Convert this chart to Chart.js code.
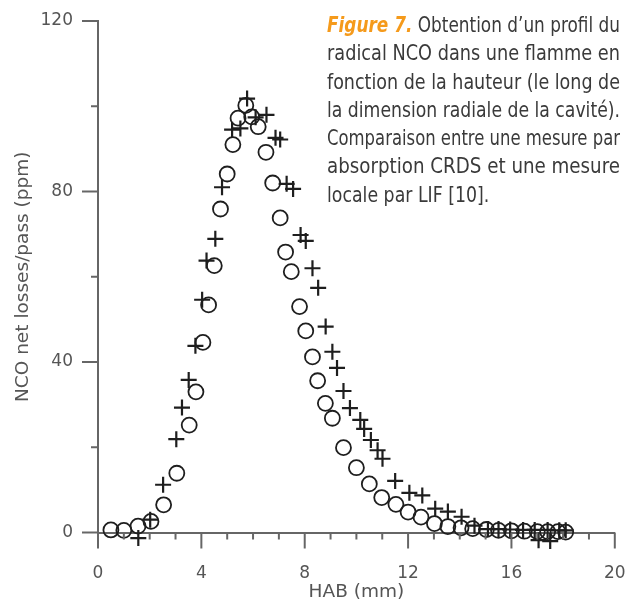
<!DOCTYPE html>
<html lang="fr">
<head>
<meta charset="UTF-8" />
<title>Profil NCO</title>
<style>
  html, body { margin: 0; padding: 0; background: #fff; }
  #wrap { position: relative; width: 625px; height: 601px; }
  #caption {
    position: absolute; left: 327px; top: 11px; width: 293px;
    font-family: "DejaVu Sans Condensed", "Liberation Sans", sans-serif;
    font-size: 21px; line-height: 28.3px; color: #3a3a3a;
  }
  #caption .l { text-align: justify; text-align-last: justify; white-space: nowrap; }
  #caption .last { text-align: left; white-space: nowrap; }
  #caption b { color: #f59a1b; font-style: italic; }
</style>
</head>
<body>
<div id="wrap">
  <canvas id="chart" width="625" height="601"></canvas>
  <div id="caption">
    <div class="l"><b>Figure 7.</b> Obtention d’un profil du</div>
    <div class="l">radical NCO dans une flamme en</div>
    <div class="l">fonction de la hauteur (le long de</div>
    <div class="l">la dimension radiale de la cavité).</div>
    <div class="l">Comparaison entre une mesure par</div>
    <div class="l">absorption CRDS et une mesure</div>
    <div class="last">locale par LIF [10].</div>
  </div>
</div>

<script src="https://cdn.jsdelivr.net/npm/chart.js"></script>
<script>
  // circles
  const circleHab = [0.5, 1.0, 1.55, 2.05, 2.54, 3.05, 3.53, 3.79, 4.06, 4.28, 4.5, 4.74, 5.0, 5.22, 5.42, 5.72, 5.95, 6.2, 6.5, 6.76, 7.05, 7.26, 7.48, 7.8, 8.04, 8.3, 8.5, 8.8, 9.07, 9.5, 10.0, 10.5, 10.98, 11.53, 12.0, 12.5, 13.02, 13.54, 14.05, 14.5, 15.03, 15.5, 16.0, 16.5, 17.0, 17.4, 17.8, 18.1];
  const circleNco = [0.6, 0.5, 1.5, 2.6, 6.5, 13.9, 25.2, 33, 44.6, 53.4, 62.6, 75.9, 84.1, 91, 97.2, 100.2, 97.5, 95.2, 89.2, 82.0, 73.8, 65.8, 61.2, 53.0, 47.3, 41.2, 35.6, 30.3, 26.8, 19.9, 15.2, 11.4, 8.2, 6.6, 4.8, 3.6, 2.1, 1.4, 1.1, 0.9, 0.7, 0.5, 0.4, 0.3, 0.2, 0.2, 0.2, 0.1];

  // crosses
  const crossHab = [1.56, 2.02, 2.52, 3.03, 3.25, 3.51, 3.77, 4.03, 4.2, 4.54, 4.8, 5.19, 5.51, 5.77, 6.1, 6.52, 6.87, 7.05, 7.3, 7.55, 7.84, 8.04, 8.3, 8.52, 8.81, 9.07, 9.25, 9.5, 9.75, 10.15, 10.3, 10.56, 10.82, 11.01, 11.5, 12.05, 12.55, 13.05, 13.54, 14.07, 14.57, 15.09, 15.5, 15.95, 16.45, 16.9, 17.05, 17.4, 17.5, 17.85, 18.1];
  const crossNco = [-1.3, 3.0, 11.2, 21.9, 29.3, 35.8, 43.8, 54.6, 63.8, 68.9, 81.0, 94.5, 94.8, 101.8, 97.4, 98.0, 92.6, 92.2, 81.8, 80.6, 69.8, 68.4, 62.0, 57.4, 48.3, 42.4, 38.6, 33.2, 29.2, 26.4, 24.3, 21.7, 19.3, 17.3, 12.1, 9.3, 8.7, 5.6, 4.9, 3.7, 1.6, 0.8, 0.8, 0.7, 0.6, 0.6, -1.8, 0.6, -2.0, 0.5, 0.5];

  const axisColor = "#666";
  const textColor = "#555";
  const markColor = "#1e1e1e";

  // squeeze caption lines that are too wide for the column
  (function fitCaption() {
    const box = 293;
    const factors = [];
    document.querySelectorAll("#caption .l, #caption .last").forEach((line) => {
      const probe = document.createElement("span");
      probe.style.whiteSpace = "nowrap";
      probe.style.position = "absolute";
      probe.style.visibility = "hidden";
      probe.innerHTML = line.innerHTML;
      line.appendChild(probe);
      const w = probe.getBoundingClientRect().width;
      line.removeChild(probe);
      line.dataset.w = w;
      if (line.classList.contains("l") && w > box) factors.push(box / w);
    });
    const mean = factors.length ? factors.reduce((a, b) => a + b, 0) / factors.length : 1;
    document.querySelectorAll("#caption .l, #caption .last").forEach((line) => {
      const w = +line.dataset.w;
      let f = line.classList.contains("l") ? Math.min(1, box / w) : mean;
      if (f < 1) {
        line.style.width = (line.classList.contains("l") ? w : box / f) + "px";
        line.style.transformOrigin = "left";
        line.style.transform = "scaleX(" + f + ")";
      }
    });
  })();

  function toPoints(xs, ys) {
    return xs.map((x, i) => ({ x: x, y: ys[i] }));
  }

  // tick marks: long ones on labelled values, short ones in between
  const tickMarks = {
    id: "tickMarks",
    afterDraw(chart) {
      const ctx = chart.ctx;
      const xs = chart.scales.x;
      const ys = chart.scales.y;
      ctx.save();
      ctx.strokeStyle = axisColor;
      ctx.lineWidth = 2;
      xs.ticks.forEach((t) => {
        const px = xs.getPixelForValue(t.value);
        const len = t.value % 4 === 0 ? 16 : 7;
        ctx.beginPath();
        ctx.moveTo(px, xs.top);
        ctx.lineTo(px, xs.top + len);
        ctx.stroke();
      });
      ys.ticks.forEach((t) => {
        const py = ys.getPixelForValue(t.value);
        const len = t.value % 40 === 0 ? 16 : 7;
        ctx.beginPath();
        ctx.moveTo(ys.right, py);
        ctx.lineTo(ys.right - len, py);
        ctx.stroke();
      });
      ctx.restore();
    },
  };

  const ctx = document.getElementById("chart").getContext("2d");

  new Chart(ctx, {
    type: "scatter",
    data: {
      datasets: [
        {
          label: "circles",
          data: toPoints(circleHab, circleNco),
          pointStyle: "circle",
          pointRadius: 7.5,
          pointBorderWidth: 1.8,
          borderColor: markColor,
          backgroundColor: "rgba(0,0,0,0)",
          clip: false,
        },
        {
          label: "crosses",
          data: toPoints(crossHab, crossNco),
          pointStyle: "cross",
          pointRadius: 8,
          pointBorderWidth: 2.2,
          borderColor: markColor,
          backgroundColor: markColor,
          clip: false,
        },
      ],
    },
    options: {
      responsive: false,
      animation: false,
      layout: { padding: { top: 21, right: 10, bottom: 0, left: 0 } },
      plugins: {
        legend: { display: false },
        tooltip: { enabled: false },
      },
      scales: {
        x: {
          type: "linear",
          min: 0,
          max: 20,
          grid: { display: false },
          border: { display: true, color: axisColor, width: 2 },
          ticks: {
            stepSize: 1,
            autoSkip: false,
            maxRotation: 0,
            padding: 23,
            color: textColor,
            font: { family: "DejaVu Sans", size: 17 },
            callback: (v) => (v % 4 === 0 ? v : ""),
          },
          title: {
            display: true,
            text: "HAB (mm)",
            color: textColor,
            padding: 0,
            font: { family: "DejaVu Sans", size: 18.5, lineHeight: 1 },
          },
          afterFit: (s) => {
            s.height = 68.5;
            s.paddingLeft = 0;
            s.paddingRight = 0;
          },
        },
        y: {
          type: "linear",
          min: 0,
          max: 120,
          grid: { display: false },
          border: { display: true, color: axisColor, width: 2 },
          ticks: {
            stepSize: 20,
            autoSkip: false,
            padding: 17,
            color: textColor,
            font: { family: "DejaVu Sans", size: 17 },
            callback: (v) => (v % 40 === 0 ? v : ""),
          },
          title: {
            display: true,
            text: "NCO net losses/pass (ppm)",
            color: textColor,
            padding: { top: 14, bottom: 0 },
            font: { family: "DejaVu Sans", size: 18.5, lineHeight: 1 },
          },
          afterFit: (s) => {
            s.width = 98;
            s.paddingTop = 0;
            s.paddingBottom = 0;
          },
        },
      },
    },
    plugins: [tickMarks],
  });
</script>
</body>
</html>
